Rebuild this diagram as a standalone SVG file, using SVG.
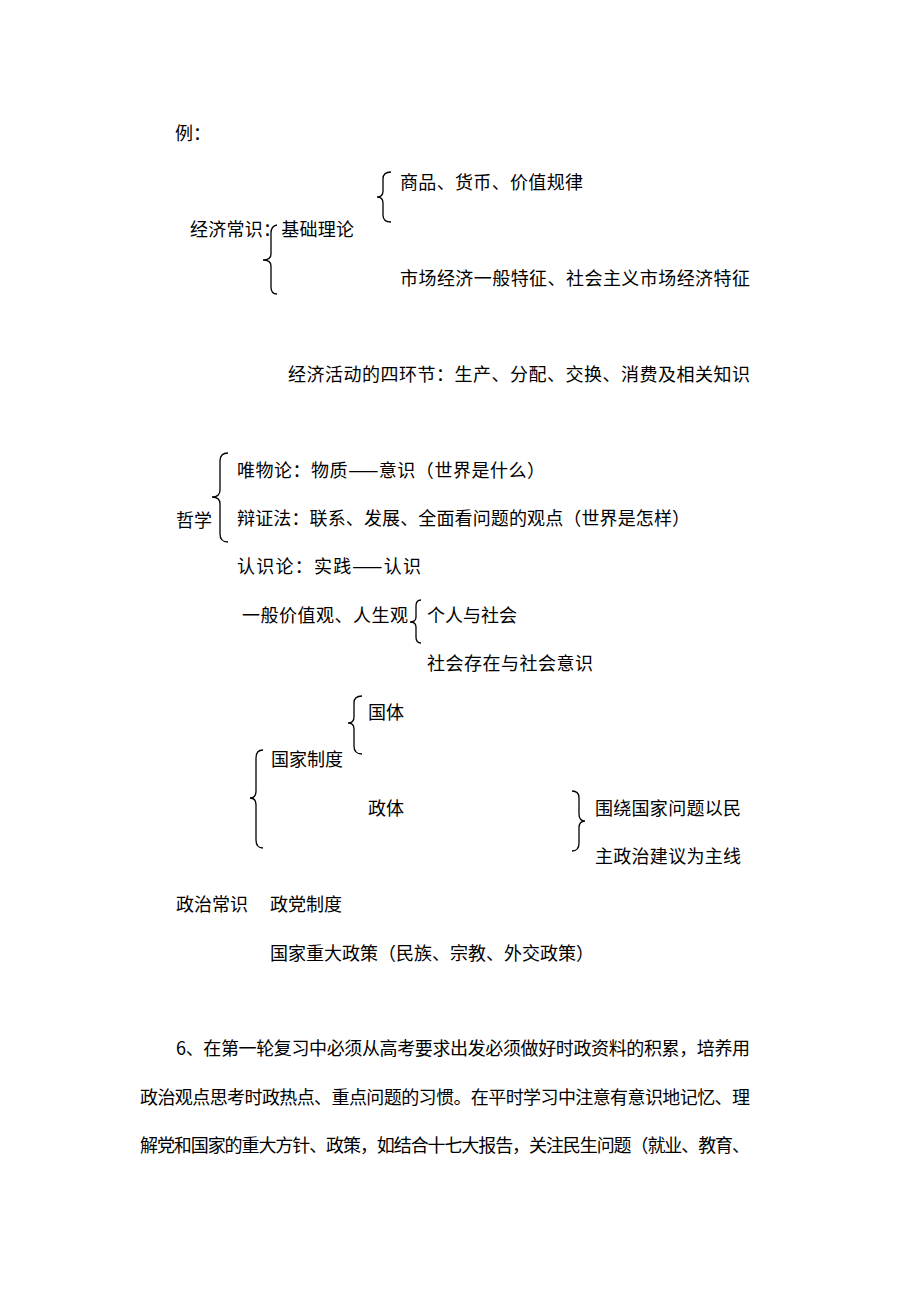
<svg xmlns="http://www.w3.org/2000/svg" width="920" height="1302" viewBox="0 0 920 1302">
<style>
text{font-family:"Noto Sans CJK SC","Noto Sans",sans-serif;font-size:18px;fill:#000;}
.brace{fill:none;stroke:#000;stroke-width:1.3;}
</style>
<rect width="920" height="1302" fill="#fff"/>
<g id="title"><text x="175" y="140">例：</text></g>
<g id="econ">
<text x="190" y="236" textLength="164" lengthAdjust="spacing">经济常识：基础理论</text>
</g>
<g id="econ-a"><text x="400" y="189" textLength="183" lengthAdjust="spacing">商品、货币、价值规律</text></g>
<g id="econ-b"><text x="400" y="285" textLength="350" lengthAdjust="spacing">市场经济一般特征、社会主义市场经济特征</text></g>
<g id="econ-c"><text x="288" y="381" textLength="462" lengthAdjust="spacing">经济活动的四环节：生产、分配、交换、消费及相关知识</text></g>
<g id="phil"><text x="176" y="527">哲学</text></g>
<g id="phil-a"><text x="237" y="477" textLength="308" lengthAdjust="spacing">唯物论：物质——意识（世界是什么）</text></g>
<g id="phil-b"><text x="237" y="525" textLength="453" lengthAdjust="spacing">辩证法：联系、发展、全面看问题的观点（世界是怎样）</text></g>
<g id="phil-c"><text x="237" y="573" textLength="184" lengthAdjust="spacing">认识论：实践——认识</text></g>
<g id="phil-d"><text x="242" y="622" textLength="166" lengthAdjust="spacing">一般价值观、人生观</text></g>
<g id="phil-d1"><text x="427" y="622">个人与社会</text></g>
<g id="phil-d2"><text x="427" y="670" textLength="166" lengthAdjust="spacing">社会存在与社会意识</text></g>
<g id="pol-state"><text x="271" y="766">国家制度</text></g>
<g id="pol-guoti"><text x="368" y="719">国体</text></g>
<g id="pol-zhengti"><text x="368" y="815">政体</text></g>
<g id="pol-note">
<text x="595" y="815" textLength="146" lengthAdjust="spacing">围绕国家问题以民</text>
<text x="595" y="863" textLength="146" lengthAdjust="spacing">主政治建议为主线</text>
</g>
<g id="pol"><text x="176" y="911">政治常识</text></g>
<g id="pol-party"><text x="270" y="911">政党制度</text></g>
<g id="pol-policy"><text x="270" y="960" textLength="324" lengthAdjust="spacing">国家重大政策（民族、宗教、外交政策）</text></g>
<g id="para">
<text x="176" y="1055" textLength="574" lengthAdjust="spacing">6、在第一轮复习中必须从高考要求出发必须做好时政资料的积累，培养用</text>
<text x="140" y="1104" textLength="610" lengthAdjust="spacing">政治观点思考时政热点、重点问题的习惯。在平时学习中注意有意识地记忆、理</text>
<text x="140" y="1152" textLength="610" lengthAdjust="spacing">解党和国家的重大方针、政策，如结合十七大报告，关注民生问题（就业、教育、</text>
</g>
<g id="connectors">
<path class="brace" d="M391 172 Q383 172 383 179 L383 191 Q383 197 377 197 Q383 197 383 203 L383 215 Q383 222 391 222"/>
<path class="brace" d="M277 225 Q271 226 271 233 L271 254 Q271 260 263 260 Q271 260 271 266 L271 287 Q271 294 277 294"/>
<path class="brace" d="M228 453 Q220 453 220 461 L220 490 Q220 497 212 497 Q220 497 220 504 L220 534 Q220 542 228 542"/>
<path class="brace" d="M421 600 Q416 600 416 606 L416 617 Q416 622 410 622 Q416 622 416 627 L416 637 Q416 643 421 643"/>
<path class="brace" d="M362 696 Q354 696 354 703 L354 717 Q354 723 348 723 Q354 723 354 729 L354 746 Q354 754 362 754"/>
<path class="brace" d="M263 750 Q256 750 256 758 L256 791 Q256 798 250 798 Q256 798 256 805 L256 840 Q256 848 263 848"/>
<path class="brace" d="M572 791 Q579 791 579 798 L579 814 Q579 821 585 821 Q579 821 579 828 L579 843 Q579 851 572 851"/>
</g>
</svg>
